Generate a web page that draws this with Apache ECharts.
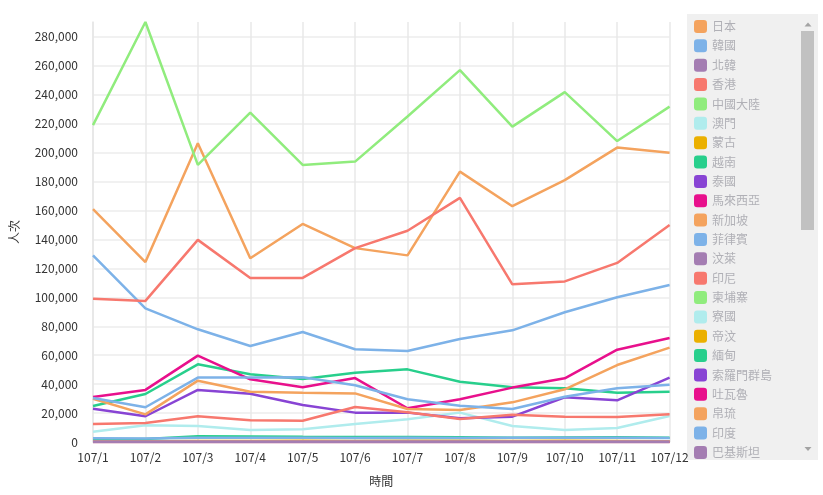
<!DOCTYPE html>
<html>
<head>
<meta charset="utf-8">
<script src="https://cdn.jsdelivr.net/npm/echarts@6/dist/echarts.min.js"></script>
<style>
html,body{margin:0;padding:0;background:#fff;}
#chart{width:823px;height:495px;}
</style>
</head>
<body>
<div id="chart"></div>
<script>
const months = ['107/1','107/2','107/3','107/4','107/5','107/6','107/7','107/8','107/9','107/10','107/11','107/12'];
const yTickStep = 20000;

const japan     = [161000,124400,206500,127000,150700,134000,129000,186900,163000,181000,203500,200000];
const korea     = [129000, 92400, 77900, 66400, 76000, 64100, 62900, 71200, 77200, 89700,100000,108500];
const northKorea= [0,0,0,0,0,0,0,0,0,0,0,0];
const hongKong  = [ 99000, 97500,139700,113400,113400,134000,146000,168700,109000,111000,123800,150000];
const china     = [219000,290300,191500,227700,191500,193800,225000,257000,218000,241800,208000,231800];
const macau     = [  7100, 11500, 11100,  8300,  8800, 12400, 15700, 20300, 11100,  8300,  9700, 18000];
const mongolia  = [   600,   500,   700,   700,   800,   700,   800,   900,   700,   800,   700,   600];
const vietnam   = [ 24900, 33200, 53700, 46800, 43600, 47900, 50200, 41700, 37800, 37100, 34100, 34800];
const thailand  = [ 23000, 17800, 36000, 33400, 25600, 20300, 20300, 16400, 17500, 30900, 28800, 44500];
const malaysia  = [ 31100, 36000, 59700, 43300, 37800, 44200, 23300, 29500, 37600, 44000, 63800, 71900];
const singapore = [ 29900, 19100, 42400, 34800, 34100, 33600, 22800, 22100, 27400, 36400, 53200, 65200];
const philippines=[ 30400, 24000, 44500, 44500, 44700, 39200, 29500, 25100, 22800, 31300, 37100, 39600];
const brunei    = [    60,    50,    80,    60,    70,    60,    70,    60,    50,    60,    70,    80];
const indonesia = [ 12400, 13100, 17800, 15000, 14700, 24200, 20500, 15900, 18900, 17500, 17300, 19100];
const cambodia  = [   500,   400,   600,   500,   500,   500,   600,   500,   500,   600,   500,   600];
const laos      = [   100,   100,   150,   100,   100,   100,   120,   100,   100,   120,   100,   100];
const timor     = [    10,    10,    10,    10,    10,    10,    10,    10,    10,    10,    10,    10];
const myanmar   = [  2000,  2000,  3900,  3800,  3600,  3500,  3400,  3300,  3000,  3100,  3200,  3000];
const solomon   = [    10,    10,    10,    10,    10,    10,    10,    10,    10,    10,    10,    10];
const tuvalu    = [     5,     5,     5,     5,     5,     5,     5,     5,     5,     5,     5,     5];
const palau     = [   200,   200,   250,   200,   200,   200,   250,   200,   200,   200,   200,   250];
const india     = [  2600,  2500,  3000,  2900,  2900,  2800,  2900,  2800,  2900,  3000,  3000,  2800];
const pakistan  = [   150,   150,   150,   150,   150,   150,   150,   150,   150,   150,   150,   150];

const seriesNames = ['日本','韓國','北韓','香港','中國大陸','澳門','蒙古','越南','泰國','馬來西亞','新加坡','菲律賓','汶萊','印尼','柬埔寨','寮國','帝汶','緬甸','索羅門群島','吐瓦魯','帛琉','印度','巴基斯坦'];
const seriesData = [japan,korea,northKorea,hongKong,china,macau,mongolia,vietnam,thailand,malaysia,singapore,philippines,brunei,indonesia,cambodia,laos,timor,myanmar,solomon,tuvalu,palau,india,pakistan];

const palette = ['#f4a35e','#7db2e8','#a47db2','#f7786e','#90ec7d','#b0eced','#ebb000','#28cf8c','#8844d4','#e8108c'];

const chart = echarts.init(document.getElementById('chart'));
const FONT = '"Noto Sans CJK TC", "Noto Sans", sans-serif';

chart.setOption({
  color: palette,
  animation: false,
  grid: { left: 91, right: 153.4, top: 22, bottom: 53 },
  graphic: [
    { type: 'rect', z: 0, shape: { x: 687, y: 14, width: 131, height: 446 }, style: { fill: '#f0f0f0' } },
    { type: 'rect', z: 1, shape: { x: 801, y: 31, width: 13, height: 199 }, style: { fill: '#c1c1c1' } },
    { type: 'polygon', z: 1, shape: { points: [[804.5,26.5],[811.5,26.5],[808,22.5]] }, style: { fill: '#a3a3a3' } },
    { type: 'polygon', z: 1, shape: { points: [[804.5,447],[811.5,447],[808,451]] }, style: { fill: '#a3a3a3' } }
  ],
  legend: {
    type: 'plain',
    orient: 'vertical',
    left: 694,
    top: 20,
    padding: 0,
    z: 10,
    icon: 'roundRect',
    itemWidth: 13,
    itemHeight: 13,
    itemGap: 6.36,
    textStyle: { color: '#b0b0b6', fontSize: 12, fontFamily: FONT },
    data: seriesNames
  },
  xAxis: {
    type: 'category',
    data: months,
    boundaryGap: false,
    name: '時間',
    nameLocation: 'middle',
    nameGap: 33,
    nameTextStyle: { color: '#333', fontSize: 12, fontFamily: FONT },
    axisLine: { show: true, lineStyle: { color: '#e6e6e6', width: 1.5 } },
    axisTick: { show: false },
    axisLabel: { color: '#333', fontSize: 12, margin: 9, fontFamily: FONT, interval: 0 },
    splitLine: { show: true, lineStyle: { color: '#e8e8e8', width: 1.5 } }
  },
  yAxis: {
    type: 'value',
    min: 0,
    max: 'dataMax',
    interval: yTickStep,
    name: '人次',
    nameLocation: 'middle',
    nameGap: 73,
    nameTextStyle: { color: '#333', fontSize: 12, fontFamily: FONT },
    axisLine: { show: true, lineStyle: { color: '#e6e6e6', width: 1.5 } },
    axisTick: { show: false },
    axisLabel: {
      color: '#333', fontSize: 12, margin: 15, fontFamily: FONT,
      showMaxLabel: false,
      formatter: v => Math.round(v).toLocaleString('en-US')
    },
    splitLine: { show: true, showMaxLine: false, lineStyle: { color: '#ececec', width: 1.5 } }
  },
  series: seriesNames.map((n, i) => ({
    name: n,
    type: 'line',
    data: seriesData[i],
    showSymbol: false,
    symbol: 'none',
    lineStyle: { width: 2.5 },
    emphasis: { disabled: true }
  }))
});
</script>
</body>
</html>
